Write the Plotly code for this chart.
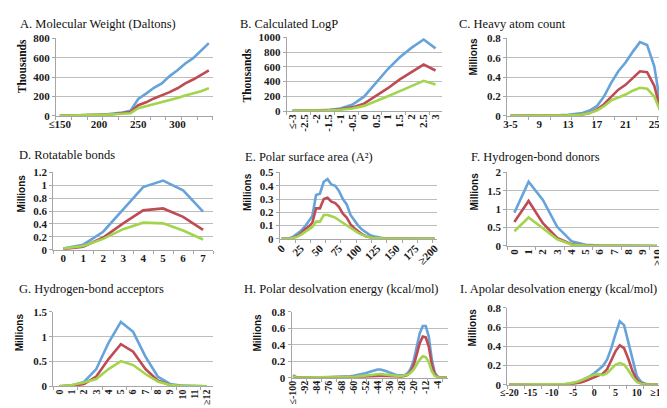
import plotly.graph_objects as go

# ---------------- data ----------------
mw_cats = ["≤150", "160", "170", "180", "190", "200", "210", "220", "230", "240",
           "250", "260", "270", "280", "290", "300", "310", "320", "330", "340"]
mw_blue = [2, 3, 4, 6, 9, 12, 17, 24, 35, 52, 175, 230, 290, 335, 410, 470, 540, 595, 670, 750]
mw_red = [2, 3, 4, 6, 8, 11, 15, 20, 28, 40, 110, 140, 180, 210, 245, 285, 335, 375, 420, 470]
mw_green = [1, 2, 3, 5, 7, 10, 13, 17, 22, 28, 80, 100, 120, 140, 160, 185, 210, 230, 255, 285]

logp_cats = ["≤-3", "-2.5", "-2", "-1.5", "-1", "-0.5", "0", "0.5", "1", "1.5", "2", "2.5", "3"]
logp_blue = [5, 6, 8, 15, 35, 85, 195, 390, 570, 730, 860, 970, 850]
logp_red = [4, 5, 7, 12, 25, 50, 100, 200, 310, 430, 530, 630, 550]
logp_green = [3, 4, 6, 10, 18, 35, 70, 130, 200, 270, 340, 410, 360]

hac_cats = ["3-5", "6", "7", "8", "9", "10", "11", "12", "13", "14", "15", "16", "17",
            "18", "19", "20", "21", "22", "23", "24", "25", "26"]
hac_blue = [0.002, 0.002, 0.002, 0.003, 0.003, 0.004, 0.006, 0.008, 0.012, 0.02, 0.03, 0.055,
            0.1, 0.2, 0.34, 0.46, 0.55, 0.66, 0.76, 0.73, 0.51, 0.05]
hac_red = [0.001, 0.001, 0.001, 0.002, 0.002, 0.003, 0.004, 0.005, 0.007, 0.01, 0.015, 0.03,
           0.065, 0.12, 0.2, 0.27, 0.32, 0.39, 0.46, 0.45, 0.31, 0.03]
hac_green = [0.001, 0.001, 0.001, 0.002, 0.002, 0.003, 0.004, 0.005, 0.007, 0.01, 0.015, 0.03,
             0.055, 0.1, 0.16, 0.19, 0.22, 0.26, 0.29, 0.28, 0.2, 0.02]

rot_cats = ["0", "1", "2", "3", "4", "5", "6", "7"]
rot_blue = [0.02, 0.08, 0.28, 0.63, 0.97, 1.07, 0.92, 0.59]
rot_red = [0.01, 0.05, 0.19, 0.41, 0.61, 0.64, 0.51, 0.31]
rot_green = [0.02, 0.06, 0.17, 0.32, 0.42, 0.41, 0.30, 0.16]

psa_cats = [str(v) for v in range(0, 200, 5)] + ["≥200"]
psa_blue = [0.001, 0.002, 0.005, 0.015, 0.035, 0.06, 0.09, 0.13, 0.17, 0.33, 0.34, 0.43, 0.45,
            0.41, 0.40, 0.36, 0.30, 0.26, 0.18, 0.14, 0.10, 0.07, 0.05, 0.03, 0.02, 0.012,
            0.008, 0.005, 0.004, 0.003, 0.002, 0.002, 0.002, 0.002, 0.001, 0.001, 0.001,
            0.001, 0.001, 0.001, 0.001]
psa_red = [0.001, 0.001, 0.003, 0.01, 0.02, 0.04, 0.07, 0.09, 0.12, 0.23, 0.23, 0.30, 0.31,
           0.28, 0.27, 0.24, 0.19, 0.16, 0.11, 0.08, 0.055, 0.035, 0.02, 0.012, 0.007, 0.004,
           0.003, 0.002, 0.002, 0.001, 0.001, 0.001, 0.001, 0.001, 0.001, 0.001, 0.001,
           0.001, 0.001, 0.001, 0.001]
psa_green = [0.001, 0.001, 0.003, 0.008, 0.015, 0.03, 0.05, 0.07, 0.09, 0.13, 0.13, 0.18, 0.18,
             0.17, 0.16, 0.14, 0.12, 0.10, 0.08, 0.06, 0.045, 0.03, 0.02, 0.012, 0.007, 0.004,
             0.003, 0.002, 0.002, 0.001, 0.001, 0.001, 0.001, 0.001, 0.001, 0.001, 0.001,
             0.001, 0.001, 0.001, 0.001]

hbd_cats = ["0", "1", "2", "3", "4", "5", "6", "7", "8", "9", "≥10"]
hbd_blue = [0.9, 1.74, 1.25, 0.52, 0.13, 0.03, 0.01, 0.005, 0.002, 0.001, 0.001]
hbd_red = [0.65, 1.22, 0.62, 0.22, 0.05, 0.01, 0.004, 0.002, 0.001, 0.001, 0.001]
hbd_green = [0.4, 0.77, 0.48, 0.18, 0.04, 0.01, 0.004, 0.002, 0.001, 0.001, 0.001]

hba_cats = ["0", "1", "2", "3", "4", "5", "6", "7", "8", "9", "10", "11", "≥12"]
hba_blue = [0.003, 0.02, 0.09, 0.35, 0.88, 1.3, 1.1, 0.6, 0.2, 0.05, 0.015, 0.005, 0.002]
hba_red = [0.002, 0.01, 0.05, 0.2, 0.55, 0.85, 0.7, 0.35, 0.12, 0.03, 0.008, 0.003, 0.001]
hba_green = [0.005, 0.03, 0.08, 0.15, 0.35, 0.51, 0.43, 0.25, 0.1, 0.03, 0.01, 0.003, 0.001]

pde_cats = ["≤-100"] + [str(v) for v in range(-98, 4, 2)]
pde_blue = [0.03, 0.006, 0.004, 0.003, 0.003, 0.003, 0.003, 0.003, 0.003, 0.003,
            0.004, 0.004, 0.005, 0.006, 0.007, 0.008, 0.01, 0.012, 0.015, 0.018,
            0.022, 0.028, 0.035, 0.045, 0.055, 0.065, 0.078, 0.09, 0.1, 0.1,
            0.092, 0.078, 0.062, 0.047, 0.035, 0.028, 0.026, 0.032, 0.055, 0.11,
            0.21, 0.37, 0.54, 0.63, 0.63, 0.5, 0.22, 0.06, 0.012, 0.003, 0.001, 0.0005]
pde_red = [0.01, 0.003, 0.002, 0.002, 0.002, 0.002, 0.002, 0.002, 0.002, 0.002,
           0.002, 0.002, 0.003, 0.003, 0.003, 0.004, 0.004, 0.005, 0.005, 0.006,
           0.006, 0.008, 0.01, 0.012, 0.015, 0.018, 0.02, 0.021, 0.022, 0.022,
           0.02, 0.018, 0.016, 0.015, 0.013, 0.013, 0.013, 0.02, 0.035, 0.075,
           0.15, 0.28, 0.42, 0.5, 0.49, 0.38, 0.16, 0.04, 0.008, 0.002, 0.001, 0.0]
pde_green = [0.015, 0.004, 0.003, 0.003, 0.003, 0.003, 0.003, 0.003, 0.003, 0.003,
             0.003, 0.004, 0.004, 0.005, 0.005, 0.006, 0.007, 0.008, 0.009, 0.01,
             0.012, 0.015, 0.018, 0.023, 0.028, 0.033, 0.038, 0.042, 0.045, 0.045,
             0.04, 0.035, 0.03, 0.026, 0.022, 0.02, 0.02, 0.025, 0.035, 0.06,
             0.1, 0.16, 0.22, 0.26, 0.25, 0.19, 0.08, 0.02, 0.005, 0.001, 0.0, 0.0]

ade_cats = ["≤-20"] + [str(v) for v in range(-19, 15)] + ["≥15"]
ade_blue = [0.001, 0.001, 0.001, 0.001, 0.001, 0.001, 0.001, 0.001, 0.001, 0.001,
            0.001, 0.002, 0.003, 0.005, 0.009, 0.016, 0.028, 0.045, 0.065, 0.09,
            0.12, 0.155, 0.195, 0.26, 0.38, 0.53, 0.66, 0.62, 0.44, 0.24,
            0.09, 0.03, 0.01, 0.004, 0.002, 0.001]
ade_red = [0.001, 0.001, 0.001, 0.001, 0.001, 0.001, 0.001, 0.001, 0.001, 0.001,
           0.001, 0.001, 0.002, 0.003, 0.005, 0.009, 0.016, 0.027, 0.042, 0.06,
           0.08, 0.095, 0.115, 0.16, 0.25, 0.35, 0.41, 0.38, 0.27, 0.14,
           0.05, 0.015, 0.005, 0.002, 0.001, 0.001]
ade_green = [0.001, 0.001, 0.001, 0.001, 0.001, 0.001, 0.001, 0.001, 0.001, 0.001,
             0.001, 0.002, 0.004, 0.007, 0.012, 0.02, 0.032, 0.047, 0.065, 0.085,
             0.105, 0.11, 0.1, 0.12, 0.165, 0.21, 0.225, 0.21, 0.15, 0.08,
             0.03, 0.01, 0.004, 0.002, 0.001, 0.001]

# ---------------- styling / layout ----------------
W, H = 667, 408
COLORS = ["#66A3DA", "#BF4B55", "#A3D44D"]
GRID = "#BDBDBD"
AXIS = "#A6A6A6"
TICKFONT = dict(family="Liberation Serif", size=11, color="#1a1a1a", weight="bold")
SMALLTICK = dict(family="Liberation Serif", size=10, color="#1a1a1a", weight="bold")
TITLEFONT = dict(family="Liberation Serif", size=12.5, color="#111111")

panels = [
    dict(title="A. Molecular Weight (Daltons)", cats=mw_cats, s=(mw_blue, mw_red, mw_green),
         ymax=800, dtick=200, unit="Thousands", every=5, angle=0, xf=TICKFONT,
         box=(41.7, 201.7, 25, 105), tpos=(3, 10), upos=(8, 54)),
    dict(title="B. Calculated LogP", cats=logp_cats, s=(logp_blue, logp_red, logp_green),
         ymax=1000, dtick=200, unit="Thousands", every=1, angle=-90, xf=TICKFONT,
         box=(277, 435, 24, 100), tpos=(227, 10), upos=(237, 63)),
    dict(title="C. Heavy atom count", cats=hac_cats, s=(hac_blue, hac_red, hac_green),
         ymax=0.8, dtick=0.2, unit="Millions", every=4, angle=0, xf=TICKFONT,
         box=(501.7, 663, 25, 105), tpos=(451, 10), upos=(468, 44)),
    dict(title="D. Rotatable bonds", cats=rot_cats, s=(rot_blue, rot_red, rot_green),
         ymax=1.2, dtick=0.2, unit="Millions", every=1, angle=0, xf=TICKFONT,
         box=(39, 202, 163, 243), tpos=(2, 145), upos=(7, 185)),
    dict(title="E. Polar surface area (A²)", cats=psa_cats, s=(psa_blue, psa_red, psa_green),
         ymax=0.5, dtick=0.1, unit="Millions", every=5, angle=-45, xf=TICKFONT,
         box=(270, 430, 163.3, 231.7), tpos=(233, 147), upos=(237, 183)),
    dict(title="F. Hydrogen-bond donors", cats=hbd_cats, s=(hbd_blue, hbd_red, hbd_green),
         ymax=2, dtick=0.5, unit="Millions", every=1, angle=-90, xf=TICKFONT,
         box=(502, 662, 163, 239), tpos=(463, 147), upos=(469, 183)),
    dict(title="G. Hydrogen-bond acceptors", cats=hba_cats, s=(hba_blue, hba_red, hba_green),
         ymax=1.5, dtick=0.5, unit="Millions", every=1, angle=-90, xf=SMALLTICK,
         box=(39, 202, 307, 383.7), tpos=(2, 283), upos=(4, 328)),
    dict(title="H. Polar desolvation energy (kcal/mol)", cats=pde_cats, s=(pde_blue, pde_red, pde_green),
         ymax=0.8, dtick=0.2, unit="Millions", every=4, angle=-90, xf=SMALLTICK,
         box=(282, 442, 307, 374.7), tpos=(232, 283), upos=(247, 328)),
    dict(title="I. Apolar desolvation energy (kcal/mol)", cats=ade_cats, s=(ade_blue, ade_red, ade_green),
         ymax=0.8, dtick=0.2, unit="Millions", every=5, angle=0, xf=SMALLTICK,
         box=(502, 658, 302.7, 382), tpos=(452, 283), upos=(467, 323)),
]

fig = go.Figure()
layout = dict(width=W, height=H, margin=dict(l=0, r=0, t=0, b=0),
              paper_bgcolor="white", plot_bgcolor="white", showlegend=False)
annotations = []

for i, p in enumerate(panels, start=1):
    x0, x1, yt, yb = p["box"]
    xd = [x0 / W, x1 / W]
    yd = [1 - yb / H, 1 - yt / H]
    n = len(p["cats"])
    xa, ya, xl = f"x{i}", f"y{i}", f"x{i + 9}"
    for vals, col in zip(p["s"], COLORS):
        fig.add_trace(go.Scatter(x=p["cats"], y=vals, mode="lines",
                                 line=dict(color=col, width=2.6), xaxis=xa, yaxis=ya,
                                 hoverinfo="skip"))
    # empty trace that anchors the label axis
    fig.add_trace(go.Scatter(x=[None], y=[None], xaxis=xl, yaxis=ya, hoverinfo="skip"))
    layout[f"xaxis{i}"] = dict(domain=xd, anchor=ya, type="category",
                               categoryorder="array", categoryarray=p["cats"],
                               range=[-0.5, n - 0.5], tickson="boundaries",
                               ticks="outside", ticklen=3, tickcolor=AXIS,
                               showticklabels=False, showline=True, linecolor=AXIS,
                               linewidth=1, showgrid=False, zeroline=False, fixedrange=True)
    idx = list(range(0, n, p["every"]))
    layout[f"xaxis{i + 9}"] = dict(domain=xd, anchor=ya, overlaying=xa, type="linear",
                                   range=[-0.5, n - 0.5], tickmode="array", tickvals=idx,
                                   ticktext=[p["cats"][k] for k in idx], ticks="",
                                   tickangle=p["angle"], tickfont=p["xf"],
                                   showline=False, showgrid=False, zeroline=False,
                                   fixedrange=True)
    layout[f"yaxis{i}"] = dict(domain=yd, anchor=xa, range=[0, p["ymax"]], dtick=p["dtick"],
                               tick0=0, showgrid=True, gridcolor=GRID, gridwidth=1,
                               showline=True, linecolor=AXIS, ticks="outside", ticklen=3,
                               tickcolor=AXIS, tickfont=TICKFONT, zeroline=False,
                               fixedrange=True)
    annotations.append(dict(text=p["title"], x=p["tpos"][0] / W, y=1 - p["tpos"][1] / H,
                            xref="paper", yref="paper", xanchor="left", yanchor="middle",
                            showarrow=False, font=TITLEFONT))
    ufont = (dict(family="Liberation Serif", size=11.5, color="#111") if p["unit"] == "Thousands"
             else dict(family="Liberation Sans", size=10, color="#111"))
    annotations.append(dict(text=f"<b>{p['unit']}</b>", x=p["upos"][0] / W, y=1 - p["upos"][1] / H,
                            xref="paper", yref="paper", xanchor="center", yanchor="middle",
                            textangle=-90, showarrow=False, font=ufont))

layout["annotations"] = annotations
fig.update_layout(**layout)
fig.write_html("out.html")
